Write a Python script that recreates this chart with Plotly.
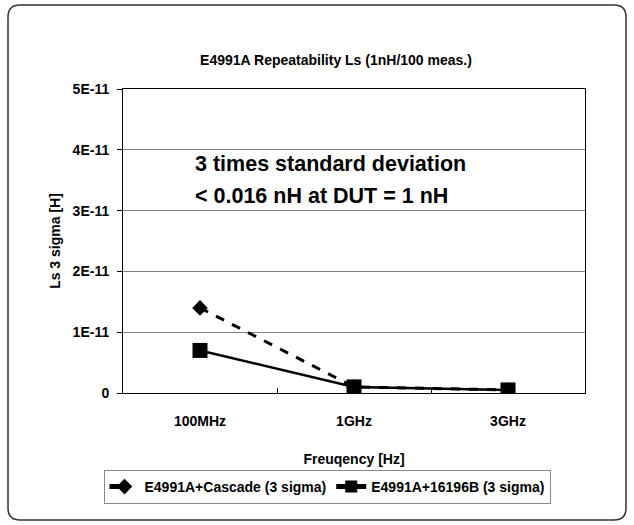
import plotly.graph_objects as go

categories = ["100MHz", "1GHz", "3GHz"]
cascade = [1.4e-11, 1.0e-12, 5e-13]
fixture = [7e-12, 1.0e-12, 5e-13]
ytick_vals = [0, 1e-11, 2e-11, 3e-11, 4e-11, 5e-11]
ytick_text = ["0", "1E-11", "2E-11", "3E-11", "4E-11", "5E-11"]

FONT = "Liberation Sans Narrow, Liberation Sans, Arial, sans-serif"

W, H = 634, 525
L, R, T, B = 123, 585, 89, 393

fig = go.Figure()
fig.add_trace(go.Scatter(
    x=categories, y=cascade, name="<b>E4991A+Cascade (3 sigma)</b>", mode="lines+markers",
    line=dict(color="black", width=3, dash="dash"),
    marker=dict(symbol="diamond", size=12, color="black"),
))
fig.add_trace(go.Scatter(
    x=categories, y=fixture, name="<b>E4991A+16196B (3 sigma)</b>", mode="lines+markers",
    line=dict(color="black", width=2.5),
    marker=dict(symbol="square", size=15, color="black"),
))

def px2x(px):
    return (px - L) / (R - L)

def px2y(py):
    return (B - py) / (B - T)

# rounded outer frame
x0, x1, y0, y1, r = 8, 626, 5, 520, 12
pts = [
    f"M {px2x(x0 + r)},{px2y(y0)}",
    f"L {px2x(x1 - r)},{px2y(y0)}",
    f"Q {px2x(x1)},{px2y(y0)} {px2x(x1)},{px2y(y0 + r)}",
    f"L {px2x(x1)},{px2y(y1 - r)}",
    f"Q {px2x(x1)},{px2y(y1)} {px2x(x1 - r)},{px2y(y1)}",
    f"L {px2x(x0 + r)},{px2y(y1)}",
    f"Q {px2x(x0)},{px2y(y1)} {px2x(x0)},{px2y(y1 - r)}",
    f"L {px2x(x0)},{px2y(y0 + r)}",
    f"Q {px2x(x0)},{px2y(y0)} {px2x(x0 + r)},{px2y(y0)} Z",
]
fig.add_shape(type="path", xref="paper", yref="paper", path=" ".join(pts),
              line=dict(color="#333", width=1.5))

fig.add_annotation(
    xref="paper", yref="paper", x=px2x(193), y=px2y(164), xanchor="left", yanchor="middle",
    text="<b>3 times standard deviation</b>", showarrow=False,
    font=dict(family=FONT, size=21.5, color="black"),
)
fig.add_annotation(
    xref="paper", yref="paper", x=px2x(193), y=px2y(196), xanchor="left", yanchor="middle",
    text="<b>< 0.016 nH at DUT = 1 nH</b>", showarrow=False,
    font=dict(family=FONT, size=21.5, color="black"),
)

fig.update_layout(
    width=W, height=H,
    margin=dict(l=L, r=W - R, t=T, b=H - B, autoexpand=False),
    paper_bgcolor="white", plot_bgcolor="white",
    font=dict(family=FONT, size=12, color="black"),
    title=dict(text="<b>E4991A Repeatability Ls (1nH/100 meas.)</b>", x=px2x(336), xref="paper",
               xanchor="center", y=1 - 60 / H, yref="container", yanchor="middle",
               font=dict(family=FONT, size=14, color="black")),
    showlegend=True,
    legend=dict(orientation="h", x=px2x(327), xref="paper", xanchor="center",
                y=px2y(470), yref="paper", yanchor="top", bordercolor="#888", borderwidth=1,
                font=dict(family=FONT, size=14, color="black"),
                tracegroupgap=0, itemsizing="constant"),
)
fig.update_xaxes(
    type="category", range=[-0.5, 2.5], showline=True, linecolor="black", linewidth=1,
    mirror=True, ticks="inside", ticklen=5, tickson="boundaries", tickcolor="black",
    showgrid=False, tickfont=dict(family=FONT, size=14), ticklabelstandoff=15,
    automargin=False, tickangle=0,
    title=dict(text="<b>Freuqency [Hz]</b>", font=dict(family=FONT, size=14), standoff=26),
    tickvals=categories, ticktext=[f"<b>{c}</b>" for c in categories],
)
fig.update_yaxes(
    range=[0, 5e-11], tickvals=ytick_vals, ticktext=[f"<b>{t}</b>" for t in ytick_text],
    showline=True, linecolor="black", linewidth=1, mirror=True,
    ticks="outside", ticklen=5, tickcolor="black", automargin=False,
    showgrid=True, gridcolor="#808080", gridwidth=1, zeroline=False,
    tickfont=dict(family=FONT, size=14), ticklabelstandoff=5,
    title=dict(text="<b>Ls 3 sigma [H]</b>", font=dict(family=FONT, size=14), standoff=8),
)

fig.write_html("out.html", post_script="document.body.style.margin='0';",
               config={"displayModeBar": False})
